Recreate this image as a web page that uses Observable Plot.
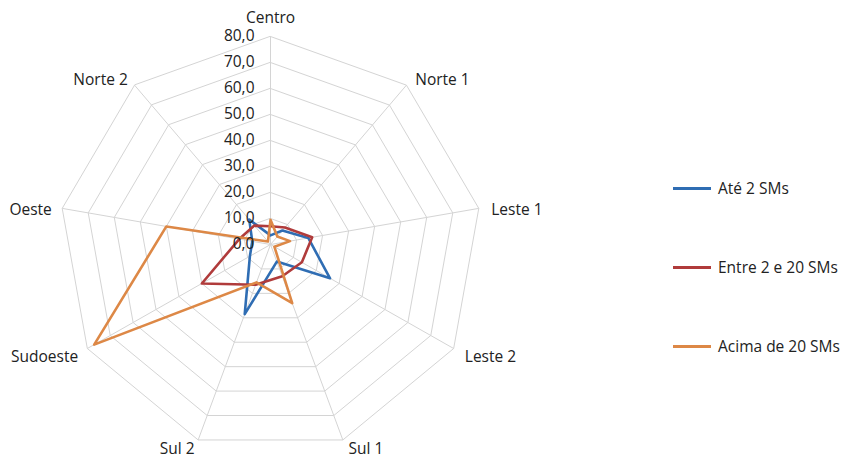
<!DOCTYPE html>
<html><head><meta charset="utf-8">
<script src="https://cdn.jsdelivr.net/npm/d3@7"></script>
<script src="https://cdn.jsdelivr.net/npm/@observablehq/plot@0.6"></script>
<style>
body{margin:0;background:#fff;}
#wrap{position:relative;width:845px;height:461px;font-family:"Open Sans",sans-serif;color:#222;}
#wrap svg{position:absolute;left:0;top:0;}
.li{position:absolute;left:673px;height:20px;display:flex;align-items:center;font-size:15.5px;white-space:nowrap;}
.li span.sw{display:inline-block;width:38px;height:3px;margin-right:7px;}
</style></head>
<body><div id="wrap"></div>
<script>
const axes = ["Centro","Norte 1","Leste 1","Leste 2","Sul 1","Sul 2","Sudoeste","Oeste","Norte 2"];
const seriesNames = ["Até 2 SMs","Entre 2 e 20 SMs","Acima de 20 SMs"];
const ate2 = [3.5, 7, 14.5, 26, 7, 28.5, 9, 7, 12.5];
const entre2e20 = [7, 8.5, 16, 13.7, 13, 16.5, 30, 12, 9.5];
const acima20 = [9.5, 4, 7.5, 1.7, 24, 15.5, 77, 40, 1.5];
const ticks = [0, 10, 20, 30, 40, 50, 60, 70, 80];
const tickLabels = ["0,0","10,0","20,0","30,0","40,0","50,0","60,0","70,0","80,0"];
const colors = ["#2f6db3", "#b03b3b", "#dd8846"];

const n = axes.length;
const ang = i => i * 2 * Math.PI / n;
const px = (r, i) => r * Math.sin(ang(i));
const py = (r, i) => r * Math.cos(ang(i));
const rMax = 80;

const rings = ticks.filter(t => t > 0).flatMap(t => axes.map((a, i) => ({ring: t, x: px(t, i), y: py(t, i)})));
const spokes = axes.map((a, i) => ({x2: px(rMax, i), y2: py(rMax, i)}));
const allSeries = [ate2, entre2e20, acima20];
const pts = allSeries.flatMap((vals, s) => vals.map((v, i) => ({series: seriesNames[s], x: px(v, i), y: py(v, i)})));
const labelR = 84;
const labels = axes.map((a, i) => {
  const s = Math.sin(ang(i)), c = Math.cos(ang(i));
  return {name: a, x: px(labelR, i), y: py(labelR, i), bottom: c < -0.8,
          anchor: s > 0.1 ? "start" : s < -0.1 ? "end" : "middle"};
});

const cx = 270, cy = 244, Rx = 211.5, Ry = 208;
const txt = (filter, opts) => Plot.text(labels.filter(filter), {x: "x", y: "y", text: "name", fill: "#222", ...opts});
const plot = Plot.plot({
  width: 845, height: 461,
  margin: 0,
  x: {domain: [-rMax, rMax], range: [cx - Rx, cx + Rx], axis: null},
  y: {domain: [-rMax, rMax], range: [cy + Ry, cy - Ry], axis: null},
  style: {fontFamily: "Open Sans, sans-serif", fontSize: "15.5px", color: "#222", background: "transparent"},
  marks: [
    Plot.line(rings, {x: "x", y: "y", z: "ring", curve: "linear-closed", stroke: "#d4d4d4", strokeWidth: 1}),
    Plot.link(spokes, {x1: 0, y1: 0, x2: "x2", y2: "y2", stroke: "#d4d4d4", strokeWidth: 1}),
    Plot.line(pts, {x: "x", y: "y", z: "series", curve: "linear-closed", stroke: "series", strokeWidth: 2.6}),
    Plot.text(ticks.map((t, k) => ({t, lab: tickLabels[k]})), {x: 0, y: "t", text: "lab", textAnchor: "end", dx: -16, fill: "#222"}),
    txt(d => d.anchor === "start" && !d.bottom, {textAnchor: "start", dx: 2, dy: 3}),
    txt(d => d.anchor === "end" && !d.bottom, {textAnchor: "end", dy: 3}),
    txt(d => d.anchor === "start" && d.bottom, {textAnchor: "start", dx: 2, dy: -1}),
    txt(d => d.anchor === "end" && d.bottom, {textAnchor: "end", dy: -1}),
    txt(d => d.anchor === "middle", {textAnchor: "middle", dy: -8})
  ],
  color: {domain: seriesNames, range: colors}
});
const wrap = document.getElementById("wrap");
wrap.appendChild(plot);
const legendY = [188, 267, 346];
seriesNames.forEach((s, k) => {
  const d = document.createElement("div");
  d.className = "li";
  d.style.top = (legendY[k] - 10) + "px";
  d.innerHTML = `<span class="sw" style="background:${colors[k]}"></span><span>${s}</span>`;
  wrap.appendChild(d);
});
</script>
</body></html>
